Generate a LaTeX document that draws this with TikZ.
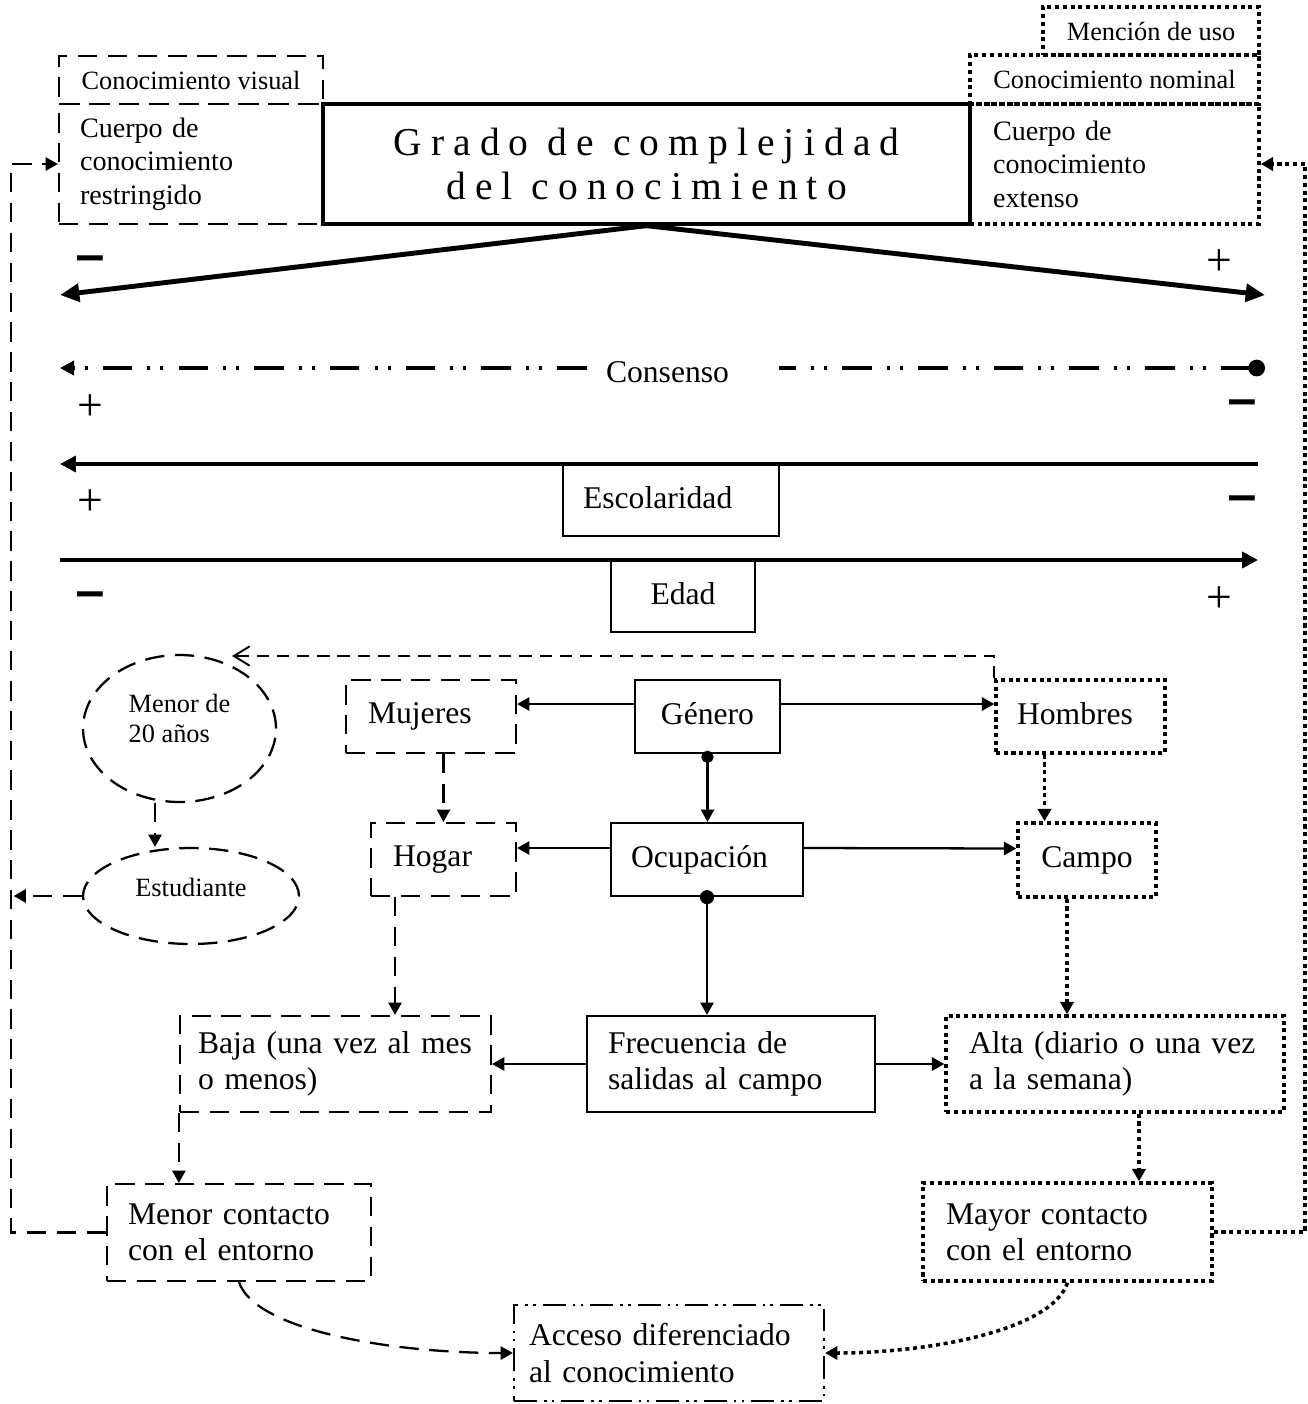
\documentclass[tikz,border=0pt]{standalone}
\usepackage{graphicx}
\usepackage{fontspec}
\setmainfont{Liberation Serif}
\newfontfamily\gradofont{Liberation Serif}[LetterSpace=23]
\newfontfamily\signfont{Liberation Sans}
\usetikzlibrary{arrows.meta,shapes.geometric}

\begin{document}
\begin{tikzpicture}[x=0.02cm, y=-0.02cm,
    txt/.style={font=\fontsize{18}{20.5}\selectfont},
    small/.style={font=\fontsize{15}{17}\selectfont},
    cuerpo/.style={font=\fontsize{16}{19}\selectfont},
    box/.style={draw, line width=1.3pt, inner sep=0pt},
    dashbox/.style={box, dash pattern=on 11pt off 6pt},
    dotbox/.style={box, line width=2pt, dash pattern=on 2.3pt off 2.1pt},
    dashdotbox/.style={box, dash pattern=on 13pt off 4pt on 1.5pt off 3pt on 1.5pt off 4pt},
    conn/.style={line width=1.3pt, -{Triangle[length=7pt,width=7.5pt]}},
    dashconn/.style={conn, dash pattern=on 11pt off 6pt},
    dotconn/.style={conn, line width=2pt, dash pattern=on 2.3pt off 2.1pt},
    dotstart/.style={{Circle[length=8pt]}-{Triangle[length=7pt,width=7.5pt]}, shorten <=-4pt},
    consline/.style={line width=2.4pt, dash pattern=on 16.8pt off 8.6pt on 1.7pt off 5.7pt on 1.7pt off 8.6pt},
    axis/.style={line width=2.2pt, -{Triangle[length=9pt,width=9pt]}},
    bigarrow/.style={line width=2.8pt, -{Triangle[length=11pt,width=10pt]}},
    raised/.style={text depth=0.3em},
    plus/.style={font=\fontsize{26}{26}\selectfont, inner sep=0pt},
    minus/.style={font=\signfont\bfseries\fontsize{34}{34}\selectfont, inner sep=0pt, yshift=-2.5pt}
  ]
  \useasboundingbox (0,0) rectangle (1308,1404);

  % cabecera
  \node[dashbox, small, minimum width=5.28cm, minimum height=0.96cm] (vis) at (191,80) {Conocimiento visual};
  \node[dashbox, cuerpo, minimum width=5.28cm, minimum height=2.4cm, text width=4.44cm, align=left] (restr) at (191,164) {Cuerpo de\\conocimiento\\restringido};
  \node[box, line width=1.9pt, minimum width=12.94cm, minimum height=2.4cm, align=center, font=\gradofont\fontsize{22.5}{25.5}\selectfont] (grado) at (646.5,164) {Grado de complejidad\\del conocimiento};
  \node[dotbox, small, minimum width=4.32cm, minimum height=0.96cm] (mencion) at (1151,31) {Mención de uso};
  \node[dotbox, small, minimum width=5.78cm, minimum height=0.98cm] (nominal) at (1114.5,79.5) {Conocimiento nominal};
  \node[dotbox, cuerpo, minimum width=5.78cm, minimum height=2.4cm, text width=4.86cm, align=left] (extenso) at (1114.5,164) {Cuerpo de\\conocimiento\\extenso};

  % ejes
  \coordinate (gL) at (60,295);
  \coordinate (gR) at (1265,295);
  \draw[bigarrow] (grado.south) -- (gL);
  \draw[bigarrow] (grado.south) -- (gR);
  \node[minus] (m1) at (90,258) {\scalebox{1.7}[0.72]{-}};
  \node[plus] (p1) at (1219,263) {+};

  \coordinate (cL) at (60,368);
  \coordinate (cR) at (1265,368);
  \node[txt, text width=3.08cm, minimum width=3.84cm, inner sep=0pt, align=left] (cons) at (683,372) {Consenso};
  \draw[consline, {Circle[length=9.5pt]}-] (cR) -- (cR -| cons.east);
  \draw[consline, -{Triangle[length=8pt,width=8pt]}] (cons.west |- cL) -- (cL);
  \node[plus] (p2) at (90,408) {+};
  \node[minus] (m2) at (1242,402) {\scalebox{1.7}[0.72]{-}};

  \coordinate (eL) at (60,464);
  \coordinate (eR) at (1258,464);
  \draw[axis] (eR) -- (eL);
  \node[box, txt, raised, minimum width=4.32cm, minimum height=1.44cm, text width=3.52cm, align=left] (esc) at (671,500) {Escolaridad};
  \node[plus] (p3) at (90,503) {+};
  \node[minus] (m3) at (1242,498) {\scalebox{1.7}[0.72]{-}};

  \coordinate (aL) at (60,560);
  \coordinate (aR) at (1258,560);
  \draw[axis] (aL) -- (aR);
  \node[box, txt, raised, minimum width=2.88cm, minimum height=1.44cm] (edad) at (683,596) {Edad};
  \node[minus] (m4) at (90,594) {\scalebox{1.7}[0.72]{-}};
  \node[plus] (p4) at (1219,600) {+};

  % variables
  \node[dashbox, ellipse, small, text depth=0.4cm, minimum width=3.86cm, minimum height=2.94cm, align=left] (menor) at (179.5,728.5) {Menor de\\20 años};
  \node[dashbox, ellipse, small, text depth=0.36cm, minimum width=4.32cm, minimum height=1.92cm] (estud) at (191,896) {Estudiante};
  \node[dashbox, txt, minimum width=3.4cm, minimum height=1.46cm, text width=2.52cm, align=left] (muj) at (431,716.5) {Mujeres};
  \node[box, txt, raised, minimum width=2.9cm, minimum height=1.46cm] (gen) at (707.5,716.5) {Género};
  \node[dotbox, txt, raised, minimum width=3.38cm, minimum height=1.46cm, text width=2.54cm, align=left] (hom) at (1080.5,716.5) {Hombres};
  \node[dashbox, txt, minimum width=2.9cm, minimum height=1.46cm, text width=2.02cm, align=left] (hog) at (443.5,859.5) {Hogar};
  \node[box, txt, minimum width=3.84cm, minimum height=1.46cm, text width=3.04cm, align=left] (ocu) at (707,859.5) {Ocupación};
  \node[dotbox, txt, minimum width=2.76cm, minimum height=1.48cm] (cam) at (1087,860) {Campo};

  \node[dashbox, txt, minimum width=6.22cm, minimum height=1.92cm, text width=5.5cm, align=left] (baja) at (335.5,1064) {Baja (una vez al mes\\o menos)};
  \node[box, txt, minimum width=5.76cm, minimum height=1.92cm, text width=4.92cm, align=left] (frec) at (731,1064) {Frecuencia de\\salidas al campo};
  \node[dotbox, txt, minimum width=6.76cm, minimum height=1.92cm, text width=5.84cm, align=left] (alta) at (1115,1064) {Alta (diario o una vez\\a la semana)};
  \node[dashbox, txt, minimum width=5.28cm, minimum height=1.94cm, text width=4.44cm, align=left] (menc) at (239,1232.5) {Menor contacto\\con el entorno};
  \node[dotbox, txt, minimum width=5.78cm, minimum height=1.96cm, text width=4.86cm, align=left] (mayc) at (1067.5,1232) {Mayor contacto\\con el entorno};
  \node[dashdotbox, txt, minimum width=6.2cm, minimum height=1.92cm, text width=5.6cm, align=left] (acc) at (669,1353) {Acceso diferenciado\\al conocimiento};

  % conexiones
  \draw[conn] ([yshift=0.25cm]gen.west) -- ([yshift=0.25cm]muj.east);
  \draw[conn] ([yshift=0.25cm]gen.east) -- ([yshift=0.25cm]hom.west);
  \draw[conn, {Circle[length=7pt]}-{Triangle[length=7pt,width=7.5pt]}, shorten <=-2pt] (gen.south) -- (gen.south |- ocu.north);
  \draw[conn] ([yshift=0.23cm]ocu.west) -- ([yshift=0.23cm]hog.east);
  \draw[conn] ([yshift=0.23cm]ocu.east) -- ([yshift=0.23cm]cam.west);
  \draw[conn, dotstart] (ocu.south) -- (ocu.south |- frec.north);
  \draw[conn] (frec.west) -- (baja.east);
  \draw[conn] (frec.east) -- (alta.west);

  \draw[dashconn] (hog.north |- muj.south) -- (hog.north);
  \draw[dotconn] ([xshift=-0.72cm]hom.south) -- ([xshift=-0.72cm]hom.south |- cam.north);
  \draw[dashconn] ([xshift=-0.97cm]hog.south) -- ([xshift=-0.97cm]hog.south |- baja.north);
  \draw[dotconn] ([xshift=-0.4cm]cam.south) -- ([xshift=-0.4cm]cam.south |- alta.north);
  \draw[dashconn] (baja.south west) -- (baja.south west |- menc.north);
  \draw[dotconn] ([xshift=0.48cm]alta.south) -- ([xshift=0.48cm]alta.south |- mayc.north);
  \draw[dashconn] ([xshift=-0.49cm]menor.south) -- ([xshift=-0.49cm]menor.south |- estud.north);

  \coordinate (lloop) at (11,700);
  \coordinate (rloop) at (1305,700);
  \coordinate (hmtop) at (232,656);
  \draw[dashconn] (menc.west) -| (lloop) |- (restr.west);
  \draw[dashconn, shorten >=1.5pt] (estud.west) -- (estud.west -| lloop);
  \draw[dotconn] (mayc.east) -| (rloop) |- (extenso.east);
  \draw[line width=1.1pt, dash pattern=on 7pt off 4.5pt, -{Straight Barb[length=9pt,width=11pt]}] (hom.north west) |- (hmtop);

  \draw[dashconn] (menc.south) .. controls (255,1330) and (390,1353) .. (acc.west);
  \draw[dotconn] (mayc.south) .. controls (1052,1330) and (930,1353) .. (acc.east);
\end{tikzpicture}
\end{document}
